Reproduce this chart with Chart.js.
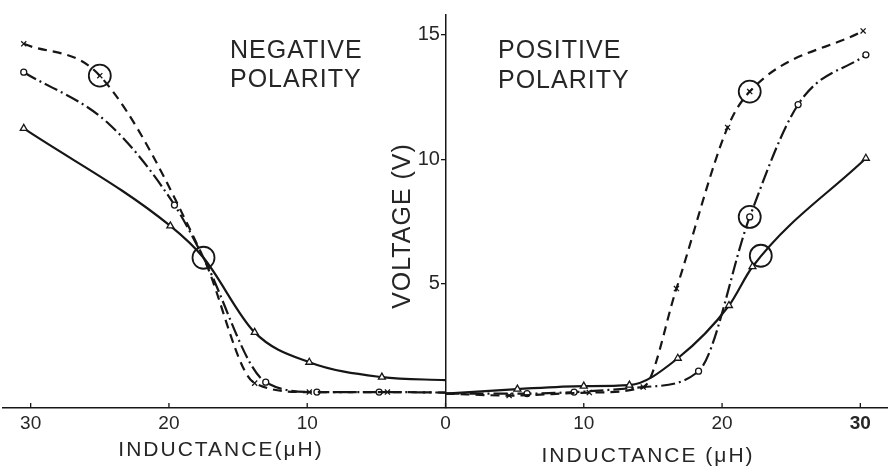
<!DOCTYPE html>
<html>
<head>
<meta charset="utf-8">
<title>Voltage vs inductance</title>
<script src="https://cdn.jsdelivr.net/npm/chart.js@4.4.1/dist/chart.umd.min.js"></script>
<style>
  html, body { margin: 0; padding: 0; background: #fff; }
  #wrap { width: 888px; height: 468px; position: relative; }
</style>
</head>
<body>
<div id="wrap"><canvas id="chart"></canvas></div>
<script>
// Axis ticks
const xTickValues = [-30, -20, -10, 0, 10, 20, 30];
const xTickLabels = ['30', '20', '10', '0', '10', '20', '30'];
const yTickValues = [5, 10, 15];

// Negative polarity (inductance plotted left of zero).
// mark: 1 = measured point drawn with a symbol, 0 = knot the curve just runs through
const negCrossX = [-30.5, -25, -17.5, -13.8, -9.85, -4.2, 0];
const negCrossV = [14.64, 13.36, 6.04, 1.0, 0.64, 0.64, 0.62];
const negCrossMark = [1, 1, 0, 1, 1, 1, 0];

const negRingX = [-30.5, -24.3, -19.6, -17.5, -13, -9.3, -4.8, 0];
const negRingV = [13.5, 11.4, 8.16, 6.04, 1.04, 0.64, 0.64, 0.62];
const negRingMark = [1, 0, 1, 0, 1, 1, 1, 0];

const negTriX = [-30.5, -19.9, -17.5, -13.8, -9.85, -4.6, 0];
const negTriV = [11.24, 7.32, 6.04, 3.04, 1.84, 1.24, 1.12];
const negTriMark = [1, 1, 0, 1, 1, 1, 0];

// Positive polarity
const posCrossX = [0, 4.6, 10.4, 14.3, 16.7, 20.4, 22, 30.2];
const posCrossV = [0.58, 0.5, 0.62, 0.84, 4.8, 11.28, 12.72, 15.16];
const posCrossMark = [0, 1, 1, 1, 1, 1, 1, 1];

const posRingX = [0, 5.9, 9.3, 14.3, 18.3, 22, 25.5, 30.4];
const posRingV = [0.58, 0.58, 0.64, 0.84, 1.48, 7.68, 12.2, 14.2];
const posRingMark = [0, 1, 1, 0, 1, 1, 1, 1];

const posTriX = [0, 5.2, 10, 13.3, 16.8, 20.5, 22.2, 30.4];
const posTriV = [0.58, 0.76, 0.88, 0.92, 2.0, 4.12, 5.68, 10.04];
const posTriMark = [0, 1, 1, 1, 1, 1, 1, 1];

// Large open circles sitting on the curves
const bigCircleX = [-25, -17.5, 22, 22, 22.8];
const bigCircleV = [13.36, 6.04, 12.72, 7.68, 6.12];

const INK = '#161616';
const TEXT = '#262626';
const FONT = 'Liberation Sans, Arial, sans-serif';

const DASHED = [9, 6];
const DASH_DOT = [14, 4, 2, 4];

const SYMBOLS = {
    cross: { style: 'crossRot', radius: 3.6 },
    ring: { style: 'circle', radius: 3 },
    tri: { style: 'triangle', radius: 4 },
};

function curve(xs, vs, marks, kind, dash) {
    const sym = SYMBOLS[kind];
    return {
        data: xs.map((x, i) => ({ x, y: vs[i] })),
        showLine: true,
        borderColor: INK,
        borderWidth: 2.2,
        borderDash: dash,
        tension: 0.4,
        cubicInterpolationMode: 'monotone',
        pointStyle: sym.style,
        pointRadius: (c) => marks[c.dataIndex] ? sym.radius : 0,
        pointBackgroundColor: '#fff',
        pointBorderColor: INK,
        pointBorderWidth: 1.3,
        pointHoverRadius: 0,
    };
}

// Titles, axis names and the upward tick marks on the inductance axis
const annotations = {
    id: 'annotations',
    afterDraw(chart) {
        const ctx = chart.ctx;
        const xs = chart.scales.x;
        const base = chart.scales.y.getPixelForValue(0);
        ctx.save();
        ctx.strokeStyle = INK;
        ctx.lineWidth = 1.3;
        xTickValues.forEach(v => {
            const px = xs.getPixelForValue(v);
            ctx.beginPath();
            ctx.moveTo(px, base);
            ctx.lineTo(px, base - 5);
            ctx.stroke();
        });

        ctx.fillStyle = TEXT;
        ctx.textBaseline = 'middle';
        ctx.font = `25px ${FONT}`;
        ctx.letterSpacing = '1px';
        ctx.textAlign = 'left';
        ctx.fillText('NEGATIVE', 230, 51);
        ctx.fillText('POLARITY', 230, 80);
        ctx.fillText('POSITIVE', 498, 51);
        ctx.fillText('POLARITY', 498, 81);

        ctx.font = `21px ${FONT}`;
        ctx.letterSpacing = '2px';
        ctx.textAlign = 'center';
        ctx.fillText('INDUCTANCE(\u03bcH)', 221, 450);
        ctx.fillText('INDUCTANCE (\u03bcH)', 648, 456);

        ctx.font = `25px ${FONT}`;
        ctx.letterSpacing = '1px';
        ctx.translate(403, 226);
        ctx.rotate(-Math.PI / 2);
        ctx.fillText('VOLTAGE (V)', 0, 0);
        ctx.restore();
    }
};

new Chart(document.getElementById('chart'), {
    type: 'scatter',
    data: {
        datasets: [
            curve(negCrossX, negCrossV, negCrossMark, 'cross', DASHED),
            curve(negRingX, negRingV, negRingMark, 'ring', DASH_DOT),
            curve(negTriX, negTriV, negTriMark, 'tri', []),
            curve(posCrossX, posCrossV, posCrossMark, 'cross', DASHED),
            curve(posRingX, posRingV, posRingMark, 'ring', DASH_DOT),
            curve(posTriX, posTriV, posTriMark, 'tri', []),
            {
                data: bigCircleX.map((x, i) => ({ x, y: bigCircleV[i] })),
                showLine: false,
                pointStyle: 'circle',
                pointRadius: 11,
                pointHoverRadius: 11,
                pointBackgroundColor: 'rgba(255,255,255,0)',
                pointBorderColor: INK,
                pointBorderWidth: 1.8,
            },
        ]
    },
    options: {
        responsive: true,
        maintainAspectRatio: false,
        animation: false,
        events: [],
        layout: { autoPadding: false, padding: { left: 3, right: 0, top: 13, bottom: 60 } },
        plugins: {
            legend: { display: false },
            tooltip: { enabled: false },
        },
        scales: {
            x: {
                type: 'linear',
                min: -32,
                max: 32,
                position: { y: 0 },
                afterBuildTicks: (s) => { s.ticks = xTickValues.map(v => ({ value: v })); },
                grid: { drawOnChartArea: false, drawTicks: false },
                border: { color: INK, width: 1.5 },
                ticks: {
                    color: TEXT,
                    padding: 4,
                    autoSkip: false,
                    maxRotation: 0,
                    callback: (v, i) => xTickLabels[i],
                    font: (c) => ({ family: FONT, size: 19, weight: c.index === 6 ? 'bold' : 'normal' }),
                },
            },
            y: {
                type: 'linear',
                min: 0,
                max: 15.8,
                position: { x: 0 },
                afterBuildTicks: (s) => { s.ticks = yTickValues.map(v => ({ value: v })); },
                grid: { drawOnChartArea: false, tickLength: 4, color: INK, lineWidth: 1.3 },
                border: { color: INK, width: 1.5 },
                ticks: {
                    color: TEXT,
                    // centre-placed axis ignores padding, so a trailing space keeps labels off the line
                    callback: (v) => v + ' ',
                    font: { family: FONT, size: 20 },
                },
            },
        },
    },
    plugins: [annotations],
});
</script>
</body>
</html>
